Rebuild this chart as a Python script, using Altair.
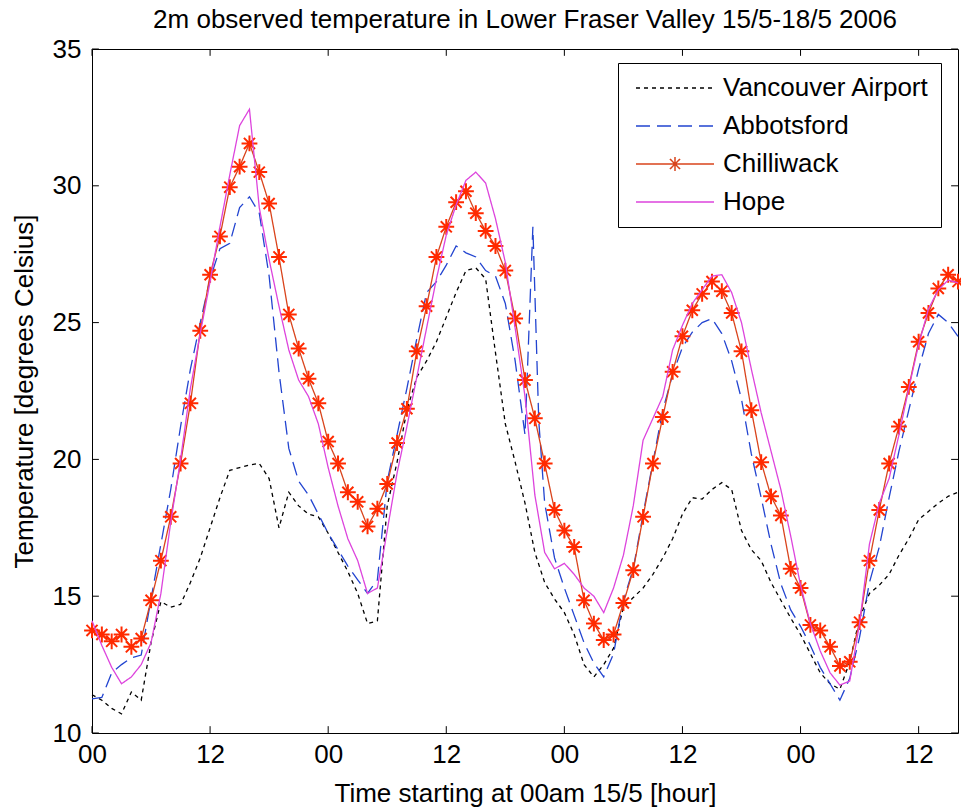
import altair as alt
import pandas as pd

# ---------------- data ----------------
stations = ["Vancouver Airport", "Abbotsford", "Chilliwack", "Hope"]

hours = list(range(89))

vancouver = [
    11.4, 11.2, 10.9, 10.7, 11.5, 11.2, 13.3, 14.8, 14.6, 14.7, 15.5, 16.4,
    17.5, 18.6, 19.6, 19.7, 19.8, 19.85, 19.3, 17.5, 18.8, 18.3, 18.0, 17.9,
    17.3, 16.6, 15.9, 15.1, 14.0, 14.1, 18.3, 19.9, 21.8, 23.0, 23.6, 24.3,
    25.2, 26.1, 26.9, 27.0, 26.6, 23.9, 21.3, 19.9, 18.4, 16.6, 15.5, 14.9,
    14.4, 13.6, 12.5, 12.05, 12.5, 13.1, 14.6, 14.95, 15.3, 15.8, 16.4, 17.1,
    18.0, 18.6, 18.55, 18.9, 19.15, 18.9, 17.4, 16.7, 16.3, 15.5, 14.85, 14.2,
    13.6, 12.9, 12.2, 11.8, 11.6, 12.6, 14.2, 15.1, 15.4, 15.8, 16.5, 17.1,
    17.8, 18.1, 18.4, 18.65, 18.8,
]

abbotsford_hours = list(range(45)) + [44.8, 45.4] + list(range(46, 89))
abbotsford = [
    11.25, 11.3, 12.2, 12.5, 12.75, 12.85, 14.9, 16.9, 18.9, 21.2, 23.3, 25.0,
    26.6, 27.7, 27.9, 29.2, 29.6, 29.0, 26.7, 23.2, 20.4, 19.2, 18.7, 18.0,
    17.3, 16.7, 16.1, 15.6, 15.1, 15.6, 19.2, 20.9, 22.6, 24.4, 26.1, 26.5,
    27.1, 27.8, 27.55, 27.4, 26.9, 26.7, 25.7, 23.6, 20.9,
    28.5, 21.4,
    18.4, 16.4, 15.3, 14.3, 13.3, 12.55, 12.05, 12.9, 14.85, 16.0, 18.0, 19.9,
    21.8, 23.1, 24.1, 24.65, 25.0, 25.15, 24.6, 23.6, 22.2, 20.2, 18.6, 16.9,
    15.45, 14.5, 13.9, 13.2, 12.4, 11.8, 11.2, 12.0, 13.5, 15.5, 16.8, 18.6,
    20.3, 21.8, 23.3, 24.6, 25.3, 25.0, 24.5,
]

chilliwack = [
    13.75, 13.6, 13.35, 13.6, 13.15, 13.45, 14.85, 16.3, 17.9, 19.85, 22.05, 24.7,
    26.75, 28.15, 29.95, 30.7, 31.55, 30.5, 29.35, 27.4, 25.3, 24.05, 22.95, 22.05,
    20.65, 19.85, 18.8, 18.45, 17.55, 18.2, 19.1, 20.6, 21.85, 23.95, 25.6, 27.4,
    28.5, 29.4, 29.8, 29.0, 28.35, 27.8, 26.9, 25.15, 22.9, 21.5, 19.85, 18.15,
    17.4, 16.8, 14.85, 14.0, 13.4, 13.6, 14.75, 15.95, 17.9, 19.85, 21.55, 23.2,
    24.5, 25.45, 26.05, 26.5, 26.15, 25.35, 23.95, 21.8, 19.9, 18.65, 17.95, 16.0,
    15.3, 13.95, 13.75, 13.15, 12.45, 12.6, 14.05, 16.3, 18.15, 19.85, 21.2, 22.65,
    24.3, 25.35, 26.25, 26.75, 26.5,
]

hope = [
    14.1, 13.2, 12.4, 11.8, 12.05, 12.5, 13.3, 15.1, 17.7, 20.0, 22.6, 24.6,
    26.5, 28.5, 30.4, 32.2, 32.8, 29.2, 27.3, 25.6, 24.0, 22.9, 22.3, 21.3,
    19.7, 18.3, 17.1, 16.3, 15.1, 15.3, 17.4, 19.5, 21.2, 23.0, 24.8, 26.6,
    28.2, 29.3, 30.2, 30.5, 30.1, 28.8, 27.2, 24.8, 22.3, 18.7, 16.6, 16.0,
    16.2, 15.8, 15.3, 15.0, 14.4, 15.3, 16.5, 18.3, 20.7, 21.5, 22.3, 24.0,
    24.9, 25.7, 26.2, 26.7, 26.75, 26.1, 25.0, 23.3, 21.7, 20.3, 18.9, 17.2,
    15.4, 14.0, 13.0, 12.2, 11.75, 11.9, 14.0, 16.9, 18.4, 19.3, 20.9, 22.6,
    24.2, 25.5, 26.2, 26.55, 26.45,
]

x_tick_values = [0, 12, 24, 36, 48, 60, 72, 84]
y_tick_values = [10, 15, 20, 25, 30, 35]

# ---------------- styles ----------------
colors = ["#000000", "#2244d0", "#d9441c", "#dd44dd"]
dashes = [[4, 4], [14, 7], [1, 0], [1, 0]]
LINE_PATH = "M-1,0L1,0"
LINE_STAR_PATH = ("M-1,0L1,0M0,-0.18L0,0.18M-0.13,-0.13L0.13,0.13"
                  "M-0.13,0.13L0.13,-0.13")
legend_shapes = [LINE_PATH, LINE_PATH, LINE_STAR_PATH, LINE_PATH]
FONT = "Liberation Sans"
FS = 26
STAR = "M-1,0L1,0M0,-1L0,1M-0.7,-0.7L0.7,0.7M-0.7,0.7L0.7,-0.7"

rows = []
for name, hs, vs in [
    (stations[0], hours, vancouver),
    (stations[1], abbotsford_hours, abbotsford),
    (stations[2], hours, chilliwack),
    (stations[3], hours, hope),
]:
    for h, v in zip(hs, vs):
        rows.append({"station": name, "hour": h, "temp": v})
df = pd.DataFrame(rows)

xt = pd.DataFrame({"tick": x_tick_values})
yt = pd.DataFrame({"tick": y_tick_values})

x_scale = alt.Scale(domain=[0, 88], nice=False, zero=False)
y_scale = alt.Scale(domain=[10, 35], nice=False, zero=False)

x_axis = alt.Axis(
    values=x_tick_values,
    labelExpr="datum.value % 24 == 0 ? '00' : '12'",
    title="Time starting at 00am 15/5 [hour]",
    grid=False, ticks=False, domain=False, labelFlush=False,
    labelFont=FONT, labelFontSize=FS, labelColor="black", labelPadding=8,
    titleFont=FONT, titleFontSize=FS, titleFontWeight="normal",
    titleColor="black", titlePadding=13,
)
y_axis = alt.Axis(
    values=y_tick_values,
    title="Temperature [degrees Celsius]",
    grid=False, ticks=False, domain=False, labelFlush=False,
    labelFont=FONT, labelFontSize=FS, labelColor="black", labelPadding=11,
    titleFont=FONT, titleFontSize=FS, titleFontWeight="normal",
    titleColor="black", titlePadding=15,
)

legend = alt.Legend(
    title=None, orient="none", legendX=526, legendY=14, direction="vertical",
    symbolSize=6084, symbolStrokeWidth=1.5, symbolOffset=6,
    clipHeight=28, rowPadding=10, labelFont=FONT, labelFontSize=FS,
    labelColor="black", labelOffset=8, labelLimit=500,
    strokeColor="black", fillColor="white", padding=11, cornerRadius=0,
)

X = alt.X("hour:Q", scale=x_scale, axis=x_axis)
Y = alt.Y("temp:Q", scale=y_scale, axis=y_axis)
C = alt.Color("station:N", scale=alt.Scale(domain=stations, range=colors), legend=legend)
D = alt.StrokeDash("station:N", scale=alt.Scale(domain=stations, range=dashes), legend=legend)
S = alt.Shape("station:N", scale=alt.Scale(domain=stations, range=legend_shapes), legend=legend)

base = alt.Chart(df).encode(x=X, y=Y, color=C, strokeDash=D)

lines_main = base.transform_filter(
    alt.datum.station != "Hope"
).mark_line(strokeWidth=1.3)

stars = alt.Chart(df).transform_filter(
    alt.datum.station == "Chilliwack"
).mark_point(shape=STAR, filled=False, size=250, strokeWidth=2,
             color="#ff2a00", opacity=1).encode(x=X, y=Y)

hope_line = base.transform_filter(
    alt.datum.station == "Hope"
).mark_line(strokeWidth=1.3)

# empty layer whose only job is to give the legend its symbols
legend_layer = alt.Chart(df).transform_filter("false").mark_point(
    filled=False, strokeWidth=1.5, opacity=1
).encode(x=X, y=Y, color=C, strokeDash=D, shape=S)

XT = alt.X("tick:Q", scale=x_scale, axis=x_axis)
YT = alt.Y("tick:Q", scale=y_scale, axis=y_axis)
tick_style = dict(color="black", strokeWidth=1)
tb = alt.Chart(xt).mark_rule(**tick_style).encode(x=XT, y=alt.datum(10), y2=alt.datum(10.25))
tt = alt.Chart(xt).mark_rule(**tick_style).encode(x=XT, y=alt.datum(35), y2=alt.datum(34.75))
tl = alt.Chart(yt).mark_rule(**tick_style).encode(y=YT, x=alt.datum(0), x2=alt.datum(0.7))
tr = alt.Chart(yt).mark_rule(**tick_style).encode(y=YT, x=alt.datum(88), x2=alt.datum(87.3))

chart = alt.layer(lines_main, stars, hope_line, legend_layer, tb, tt, tl, tr).properties(
    width=866, height=684,
    title=alt.TitleParams(
        "2m observed temperature in Lower Fraser Valley 15/5-18/5 2006",
        font=FONT, fontSize=FS, fontWeight="normal", color="black", offset=3,
    ),
    padding={"left": 92, "top": 49, "right": 3, "bottom": 75},
    autosize=alt.AutoSizeParams(type="none"),
    background="white",
).configure_view(stroke="black", strokeWidth=1)

chart.save("out.html", embed_options={"renderer": "svg", "actions": False})
